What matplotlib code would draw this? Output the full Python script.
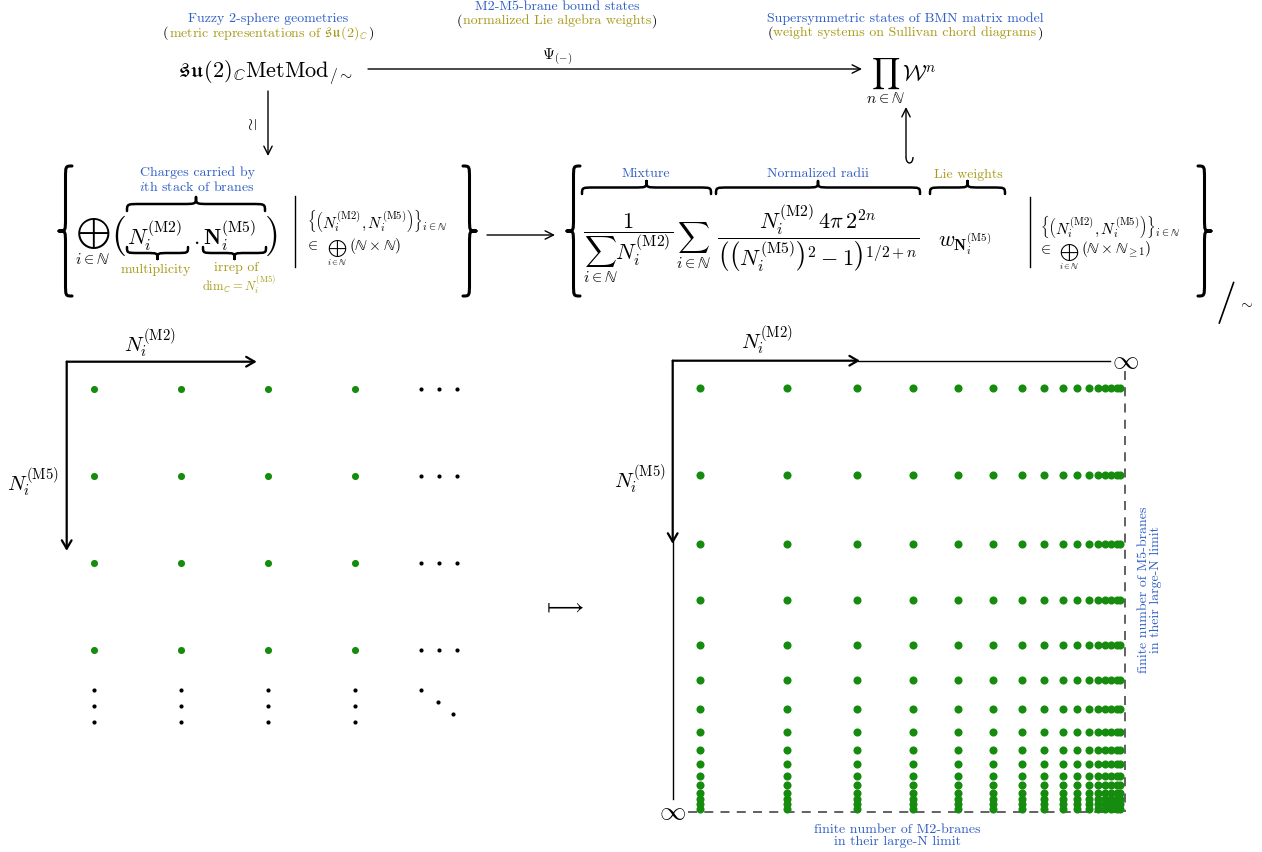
import matplotlib
matplotlib.use("Agg")
import matplotlib.pyplot as plt
from matplotlib.path import Path
from matplotlib.patches import PathPatch

plt.rcParams['mathtext.fontset'] = 'cm'
plt.rcParams['font.family'] = ['cmr10', 'DejaVu Serif']
plt.rcParams['axes.unicode_minus'] = False

# ---------------- data ----------------
# left panel: lattice of (N^(M2), N^(M5)) charges shown explicitly
m2_left = [1, 2, 3, 4]
m5_left = [1, 2, 3, 4]
# ellipsis dots (continuation of the lattice)
hdots_x = [4.76, 4.965, 5.17]
vdots_y = [4.456, 4.64, 4.83]
ddots_x = [4.76, 4.95, 5.13]
ddots_y = [4.456, 4.594, 4.732]

# right panel: normalized positions (0 = origin, 1 = large-N limit)
m2_right = [0.061, 0.253, 0.407, 0.531, 0.630, 0.708, 0.772, 0.822,
            0.863, 0.894, 0.921, 0.941, 0.956, 0.970, 0.982, 0.990]
m5_right = [0.060, 0.253, 0.406, 0.531, 0.630, 0.709, 0.772, 0.823,
            0.863, 0.895, 0.921, 0.941, 0.959, 0.972, 0.983, 0.993]

captions_top = [
    ("Fuzzy 2-sphere geometries", r"metric representations of $\mathfrak{su}(2)_\mathbb{C}$"),
    ("M2-M5-brane bound states", "normalized Lie algebra weights"),
    ("Supersymmetric states of BMN matrix model", "weight systems on Sullivan chord diagrams"),
]

BLUE = '#2f5fc4'
OLIVE = '#a89a18'
GREEN = '#168c0e'
CFS = 10  # caption font size

W, H = 1262, 853
fig = plt.figure(figsize=(W / 100, H / 100), dpi=100)
ax = fig.add_axes([0, 0, 1, 1])
ax.set_xlim(0, W)
ax.set_ylim(H, 0)
ax.axis('off')
renderer = fig.canvas.get_renderer()


def px_axes(x0, y0, x1, y1):
    a = fig.add_axes([x0 / W, 1 - y1 / H, (x1 - x0) / W, (y1 - y0) / H])
    a.axis('off')
    a.patch.set_alpha(0)
    return a


def hbrace(x0, x1, y, h, d, lw=1.8):
    # d=-1 : tip up ; d=+1 : tip down
    xm = (x0 + x1) / 2
    a = min(h, (x1 - x0) / 4)
    yp = y + d * h / 2
    yt = y + d * h
    verts = [(x0, y), (x0, yp), (x0, yp), (x0 + a, yp),
             (xm - a, yp),
             (xm, yp), (xm, yp), (xm, yt),
             (xm, yp), (xm, yp), (xm + a, yp),
             (x1 - a, yp),
             (x1, yp), (x1, yp), (x1, y)]
    codes = [Path.MOVETO, Path.CURVE4, Path.CURVE4, Path.CURVE4,
             Path.LINETO,
             Path.CURVE4, Path.CURVE4, Path.CURVE4,
             Path.CURVE4, Path.CURVE4, Path.CURVE4,
             Path.LINETO,
             Path.CURVE4, Path.CURVE4, Path.CURVE4]
    ax.add_patch(PathPatch(Path(verts, codes), fill=False, lw=lw, color='black',
                           capstyle='round', joinstyle='round'))


def vbrace(x, y0, y1, w, d, lw=2.2):
    # x: position of the ends ; d=-1 tip left ; d=+1 tip right
    ym = (y0 + y1) / 2
    a = w
    xp = x + d * w / 2
    xt = x + d * w
    verts = [(x, y0), (xp, y0), (xp, y0), (xp, y0 + a),
             (xp, ym - a),
             (xp, ym), (xp, ym), (xt, ym),
             (xp, ym), (xp, ym), (xp, ym + a),
             (xp, y1 - a),
             (xp, y1), (xp, y1), (x, y1)]
    codes = [Path.MOVETO, Path.CURVE4, Path.CURVE4, Path.CURVE4,
             Path.LINETO,
             Path.CURVE4, Path.CURVE4, Path.CURVE4,
             Path.CURVE4, Path.CURVE4, Path.CURVE4,
             Path.LINETO,
             Path.CURVE4, Path.CURVE4, Path.CURVE4]
    ax.add_patch(PathPatch(Path(verts, codes), fill=False, lw=lw, color='black',
                           capstyle='round', joinstyle='round'))


def arrow(a, start, end, lw=1.0, hl=0.6, hw=0.3):
    a.annotate('', xy=end, xytext=start,
               arrowprops=dict(arrowstyle=f'->,head_length={hl},head_width={hw}',
                               lw=lw, color='black', shrinkA=0, shrinkB=0),
               annotation_clip=False)


def paren_caption(x, y, text, color, fs):
    t = ax.text(x, y, text, color=color, fontsize=fs, ha='center', va='center')
    bb = t.get_window_extent(renderer=renderer)
    ax.text(bb.x0 - 0.5, y, '(', color='black', fontsize=fs, ha='right', va='center')
    ax.text(bb.x1 + 0.5, y, ')', color='black', fontsize=fs, ha='left', va='center')


# ---------------- top row ----------------
cap_x = [268, 557, 905]
cap_y = [19, 7, 19]
for (top, bot), cx, cy in zip(captions_top, cap_x, cap_y):
    ax.text(cx, cy, top, color=BLUE, fontsize=CFS, ha='center', va='center')
    paren_caption(cx, cy + 14, bot, OLIVE, CFS)

ax.text(266, 73, r'$\mathfrak{su}(2)_{\mathbb{C}}\mathrm{MetMod}_{/\sim}$',
        fontsize=16, ha='center', va='center')
arrow(ax, (368, 70), (862, 70))
ax.text(557, 57, r'$\Psi_{(-)}$', fontsize=11, ha='center', va='center')
ax.text(866, 81, r'$\prod_{n\in\mathbb{N}}\mathcal{W}^n$', fontsize=16,
        ha='left', va='center')

# vertical iso arrow
arrow(ax, (268, 92), (268, 157))
ax.text(253, 125, r'$\simeq$', fontsize=12, rotation=90, ha='center', va='center')

# hook arrow
arrow(ax, (906, 158), (906, 108))
hook = Path([(906, 158), (906, 166), (913, 166), (913, 158)],
            [Path.MOVETO, Path.CURVE4, Path.CURVE4, Path.CURVE4])
ax.add_patch(PathPatch(hook, fill=False, lw=1.0, color='black'))

# ---------------- left set ----------------
vbrace(72, 167, 297, 13, -1)
vbrace(463, 167, 297, 13, +1)
ax.text(93, 242, r'$\bigoplus_{i\in\mathbb{N}}$', fontsize=16, ha='center', va='center')
ax.text(119, 236, '(', fontsize=28, ha='center', va='center')
ax.text(127, 236, r'$N_i^{(\mathrm{M2})}$', fontsize=16, ha='left', va='center')
ax.text(196, 240, r'$\cdot$', fontsize=16, ha='center', va='center')
ax.text(203, 236, r'$\mathbf{N}_i^{(\mathrm{M5})}$', fontsize=16, ha='left', va='center')
ax.text(272, 236, ')', fontsize=28, ha='center', va='center')
hbrace(127, 265, 212, 14, -1)
ax.text(197, 173, 'Charges carried by', color=BLUE, fontsize=CFS, ha='center', va='center')
ax.text(197, 187, r'$i$th stack of branes', color=BLUE, fontsize=CFS, ha='center', va='center')
hbrace(127, 188, 248, 12, +1)
hbrace(203, 266, 248, 12, +1)
ax.text(156, 270, 'multiplicity', color=OLIVE, fontsize=CFS, ha='center', va='center')
ax.text(236, 268, 'irrep of', color=OLIVE, fontsize=CFS, ha='center', va='center')
ax.text(239, 285, r'$\mathrm{dim}_{\mathbb{C}} = N_i^{(\mathrm{M5})}$', color=OLIVE,
        fontsize=9, ha='center', va='center')
ax.plot([295, 295], [197, 268], color='black', lw=1.0)
ax.text(307, 220, r'$\left\{\left(N_i^{(\mathrm{M2})},N_i^{(\mathrm{M5})}\right)\right\}_{i\in\mathbb{N}}$',
        fontsize=11, ha='left', va='center')
ax.text(312, 246, r'$\in$', fontsize=11, ha='center', va='center')
ax.text(337, 253, r'$\bigoplus_{i\in\mathbb{N}}$', fontsize=9, ha='center', va='center')
ax.text(349, 246, r'$(\mathbb{N}\times\mathbb{N})$', fontsize=11, ha='left', va='center')

arrow(ax, (487, 236), (555, 236))

# ---------------- right set ----------------
vbrace(580, 167, 297, 13, -1)
vbrace(1198, 167, 297, 13, +1)
ax.text(628, 248, r'$\dfrac{1}{\sum_{i\in\mathbb{N}}N_i^{(\mathrm{M2})}}$', fontsize=16,
        ha='center', va='center')
ax.text(693, 246, r'$\sum_{i\in\mathbb{N}}$', fontsize=16, ha='center', va='center')
ax.text(818, 238, r'$\dfrac{N_i^{(\mathrm{M2})}\,4\pi\,2^{2n}}{\left(\left(N_i^{(\mathrm{M5})}\right)^2-1\right)^{1/2+n}}$',
        fontsize=16, ha='center', va='center')
ax.text(965, 244, r'$w_{\mathbf{N}_i^{(\mathrm{M5})}}$', fontsize=16, ha='center', va='center')
hbrace(582, 711, 195, 13, -1)
hbrace(716, 920, 195, 13, -1)
hbrace(930, 1005, 195, 13, -1)
ax.text(646, 174, 'Mixture', color=BLUE, fontsize=CFS, ha='center', va='center')
ax.text(818, 174, 'Normalized radii', color=BLUE, fontsize=CFS, ha='center', va='center')
ax.text(968, 175, 'Lie weights', color=OLIVE, fontsize=CFS, ha='center', va='center')
ax.plot([1030, 1030], [198, 268], color='black', lw=1.0)
ax.text(1040, 226, r'$\left\{\left(N_i^{(\mathrm{M2})},N_i^{(\mathrm{M5})}\right)\right\}_{i\in\mathbb{N}}$',
        fontsize=11, ha='left', va='center')
ax.text(1045, 250, r'$\in$', fontsize=11, ha='center', va='center')
ax.text(1069, 257, r'$\bigoplus_{i\in\mathbb{N}}$', fontsize=9, ha='center', va='center')
ax.text(1081, 250, r'$(\mathbb{N}\times\mathbb{N}_{\geq 1})$', fontsize=11, ha='left', va='center')
ax.text(1226, 303, '/', fontsize=30, ha='center', va='center')
ax.text(1246, 303, r'$\sim$', fontsize=11, ha='center', va='center')

# ---------------- left lattice ----------------
axL = px_axes(66.7, 362.7, 66.7 + 87 * 5, 362.7 + 87 * 5)
axL.set_xlim(0.686, 5.686)
axL.set_ylim(5.686, 0.686)
arrow(axL, (0.686, 0.686), (2.87, 0.686), lw=1.6, hl=0.6, hw=0.35)
arrow(axL, (0.686, 0.686), (0.686, 2.86), lw=1.6, hl=0.6, hw=0.35)
gx = [x for y in m5_left for x in m2_left]
gy = [y for y in m5_left for x in m2_left]
axL.scatter(gx, gy, s=26, color=GREEN, linewidths=0, clip_on=False, zorder=3)
hx = [x for y in m5_left for x in hdots_x]
hy = [y for y in m5_left for x in hdots_x]
axL.scatter(hx, hy, s=9, color='black', linewidths=0, clip_on=False)
vx = [x for y in vdots_y for x in m2_left]
vy = [y for y in vdots_y for x in m2_left]
axL.scatter(vx, vy, s=9, color='black', linewidths=0, clip_on=False)
axL.scatter(ddots_x, ddots_y, s=9, color='black', linewidths=0, clip_on=False)
ax.text(150, 343, r'$N_i^{(\mathrm{M2})}$', fontsize=15, ha='center', va='center')
ax.text(33, 482, r'$N_i^{(\mathrm{M5})}$', fontsize=15, ha='center', va='center')

# ---------------- right lattice ----------------
axR = px_axes(672.7, 361.7, 1125, 812.7)
axR.set_xlim(0, 1)
axR.set_ylim(1, 0)
arrow(axR, (0, 0), (0.414, 0), lw=1.6, hl=0.6, hw=0.35)
axR.plot([0.41, 0.967], [0, 0], color='black', lw=1.0, clip_on=False)
arrow(axR, (0, 0), (0, 0.406), lw=1.6, hl=0.6, hw=0.35)
axR.plot([0, 0], [0.40, 0.972], color='black', lw=1.0, clip_on=False)
axR.plot([0.034, 1.0], [1.0, 1.0], color='#555555', lw=1.3, ls=(0, (5, 4)), clip_on=False)
axR.plot([1.0, 1.0], [0.023, 1.0], color='#555555', lw=1.3, ls=(0, (5, 4)), clip_on=False)
rx = [x for y in m5_right for x in m2_right]
ry = [y for y in m5_right for x in m2_right]
axR.scatter(rx, ry, s=34, color=GREEN, linewidths=0, clip_on=False, zorder=3)
ax.text(1125, 361, r'$\infty$', fontsize=19, ha='center', va='center')
ax.text(672, 812, r'$\infty$', fontsize=19, ha='center', va='center')
ax.text(767, 340, r'$N_i^{(\mathrm{M2})}$', fontsize=15, ha='center', va='center')
ax.text(640, 479, r'$N_i^{(\mathrm{M5})}$', fontsize=15, ha='center', va='center')
ax.text(897, 836, 'finite number of M2-branes\nin their large-N limit', color=BLUE,
        fontsize=CFS, ha='center', va='center', linespacing=1.0)
ax.text(1150, 590, 'finite number of M5-branes\nin their large-N limit', color=BLUE,
        fontsize=CFS, ha='center', va='center', rotation=90, linespacing=1.0)

ax.text(563, 607, r'$\longmapsto$', fontsize=17, ha='center', va='center')

fig.savefig('out.png', dpi=100)
